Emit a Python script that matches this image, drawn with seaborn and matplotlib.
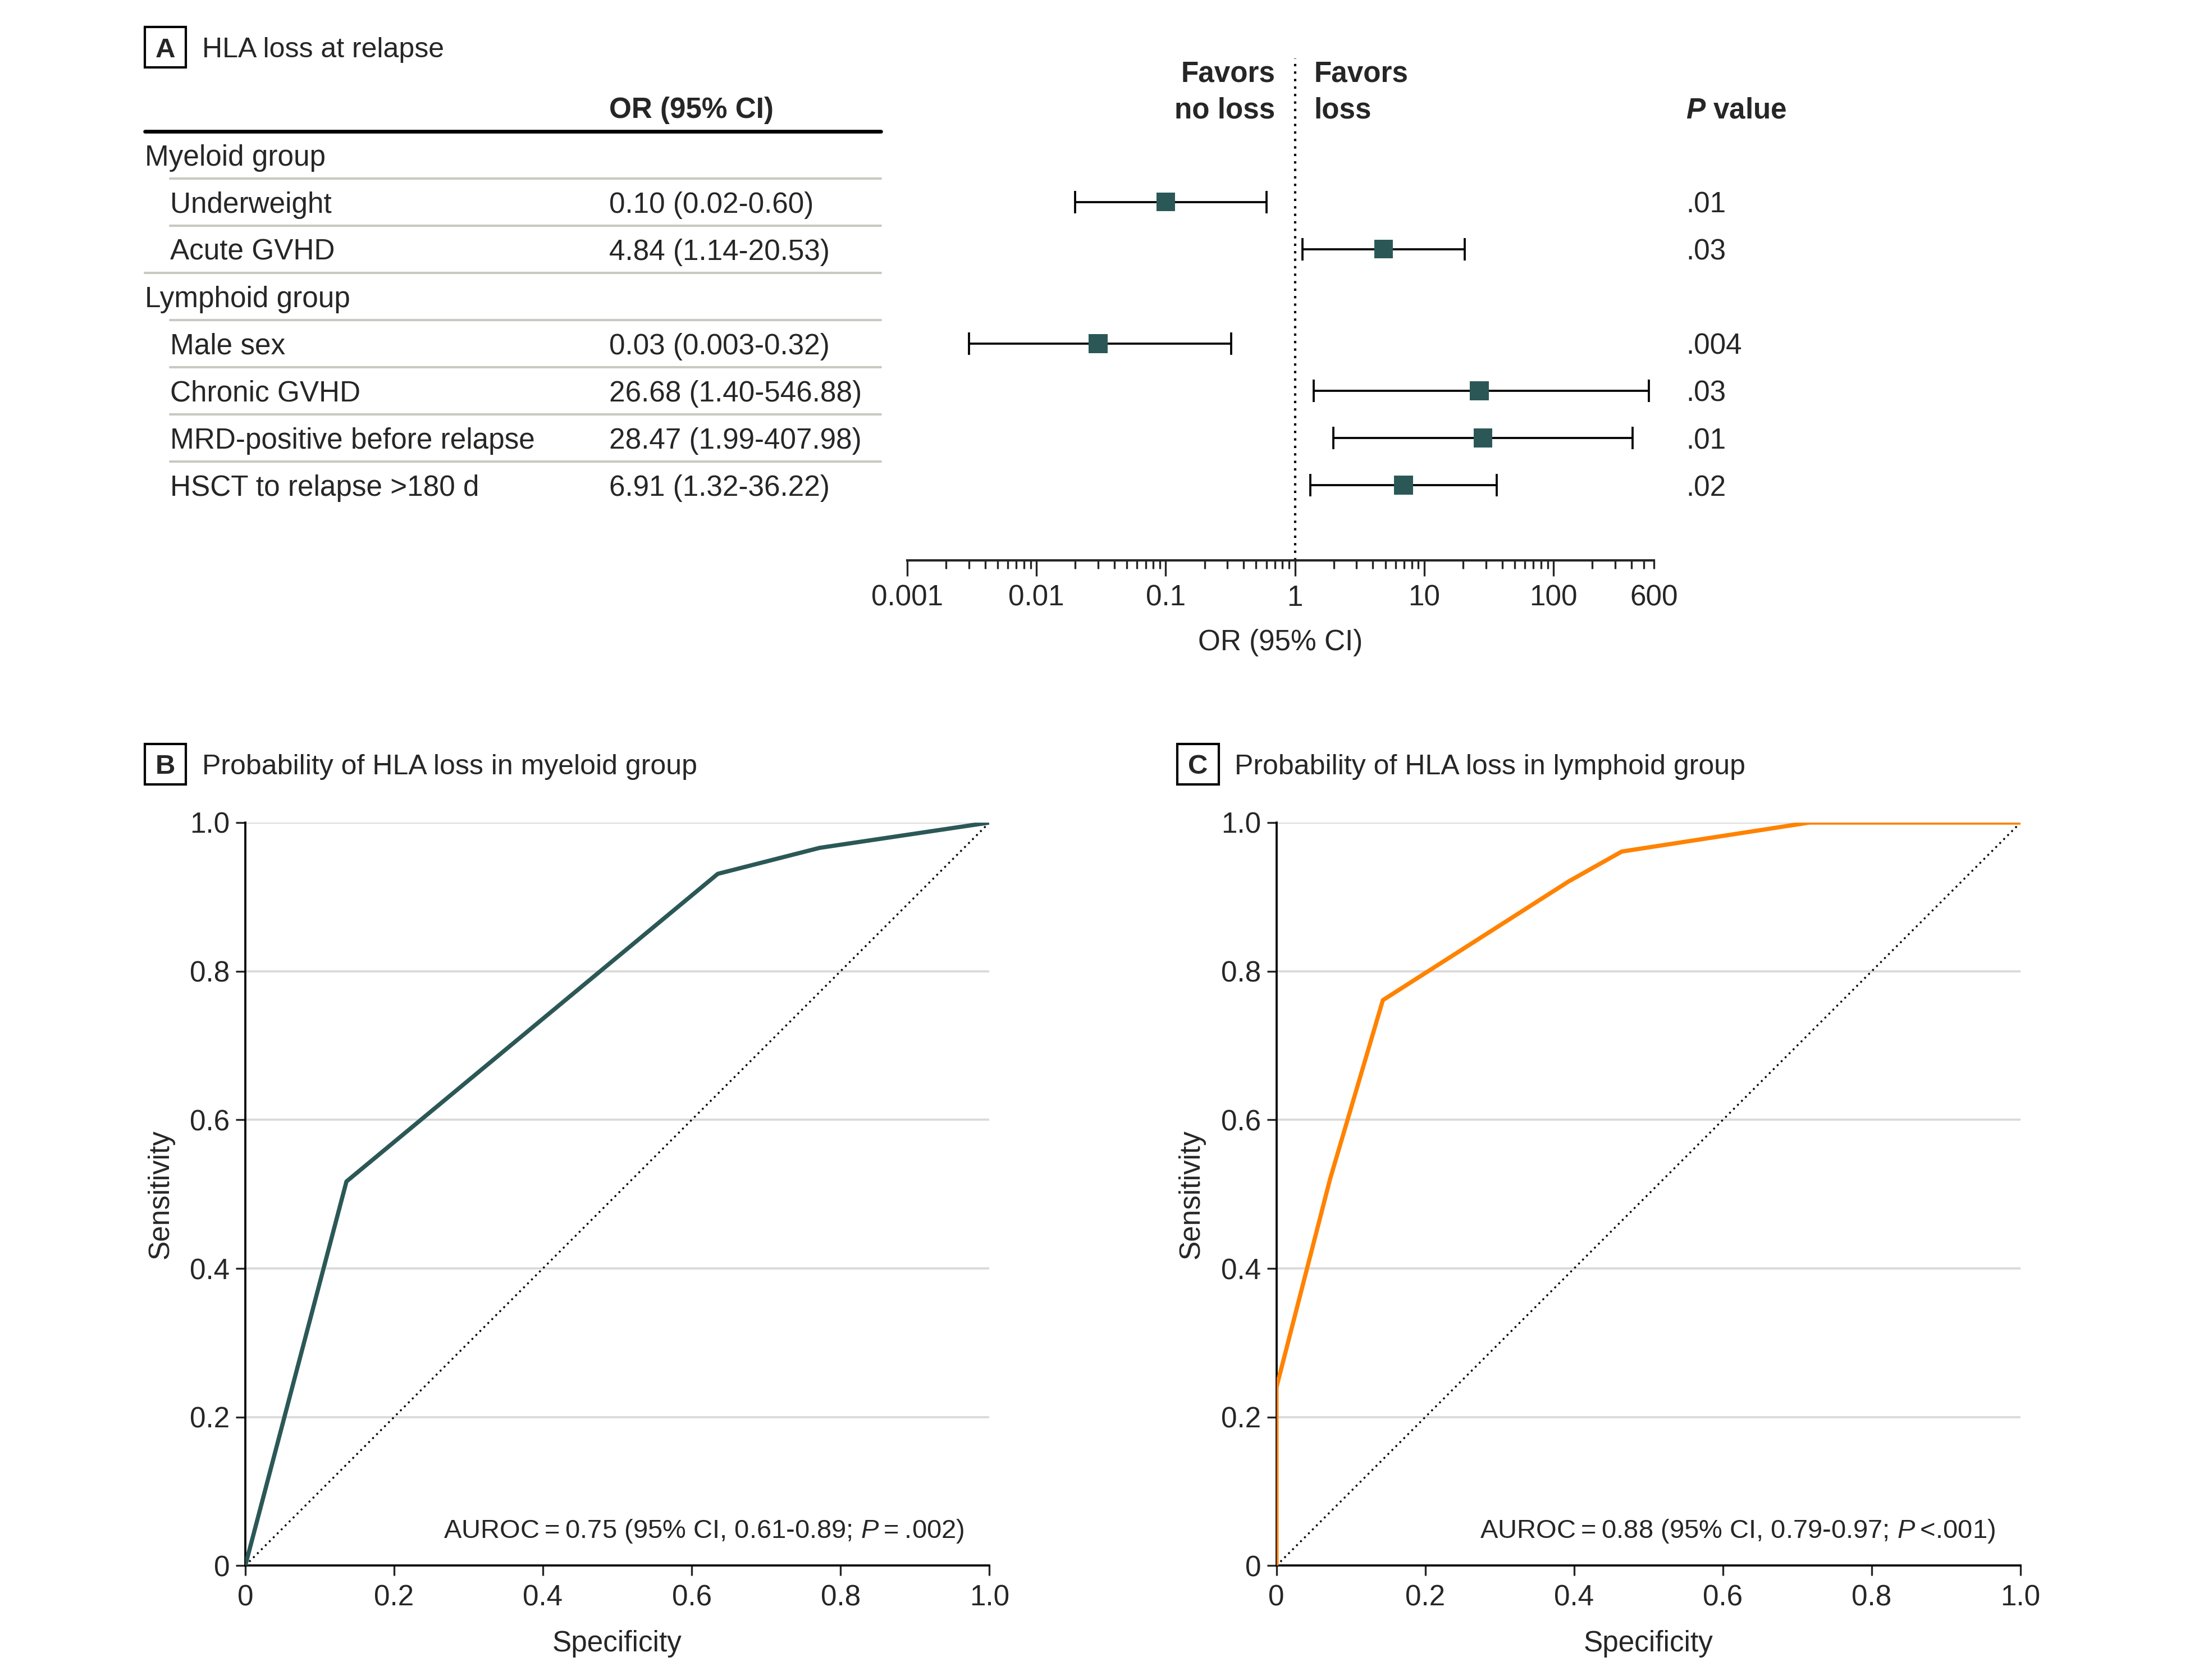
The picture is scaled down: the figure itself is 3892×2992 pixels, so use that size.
import numpy as np
import pandas as pd
import matplotlib
matplotlib.use("Agg")
import matplotlib.pyplot as plt
import matplotlib.transforms as mtransforms
from matplotlib import font_manager
from matplotlib.lines import Line2D
from matplotlib.patches import Rectangle
from matplotlib.ticker import FixedLocator, FuncFormatter
import seaborn as sns

# ---- panel A: odds ratios ----
row_labels = ["Myeloid group", "Underweight", "Acute GVHD", "Lymphoid group",
              "Male sex", "Chronic GVHD", "MRD-positive before relapse", "HSCT to relapse >180 d"]
is_group = [True, False, False, True, False, False, False, False]
odds_ratio = [np.nan, 0.10, 4.84, np.nan, 0.03, 26.68, 28.47, 6.91]
ci_low = [np.nan, 0.02, 1.14, np.nan, 0.003, 1.40, 1.99, 1.32]
ci_high = [np.nan, 0.60, 20.53, np.nan, 0.32, 546.88, 407.98, 36.22]
or_text = ["", "0.10 (0.02-0.60)", "4.84 (1.14-20.53)", "", "0.03 (0.003-0.32)",
           "26.68 (1.40-546.88)", "28.47 (1.99-407.98)", "6.91 (1.32-36.22)"]
p_text = ["", ".01", ".03", "", ".004", ".03", ".01", ".02"]
or_ticks = [0.001, 0.01, 0.1, 1, 10, 100]

# ---- panels B, C: ROC curves ----
spec_myeloid = [0, 0.136, 0.635, 0.772, 1.0]
sens_myeloid = [0, 0.517, 0.931, 0.966, 1.0]
spec_lymphoid = [0, 0, 0.072, 0.143, 0.393, 0.464, 0.716, 1.0]
sens_lymphoid = [0, 0.24, 0.52, 0.761, 0.921, 0.961, 1.0, 1.0]
roc_ticks = [0, 0.2, 0.4, 0.6, 0.8, 1.0]
auroc_myeloid = "AUROC\u2009=\u20090.75 (95% CI, 0.61-0.89; $P$\u2009=\u2009.002)"
auroc_lymphoid = "AUROC\u2009=\u20090.88 (95% CI, 0.79-0.97; $P$\u2009<.001)"

TEAL = "#2b5856"
ORANGE = "#ff8200"
GRID = "#d9d9d9"
RULE = "#c9c9c2"
FS = 12.3

sns.set_style("ticks")
available = {f.name for f in font_manager.fontManager.ttflist}
base_font = "Liberation Sans" if "Liberation Sans" in available else "DejaVu Sans"
plt.rcParams["font.family"] = [base_font, "DejaVu Sans"]
plt.rcParams["mathtext.fontset"] = "custom"
plt.rcParams["mathtext.rm"] = base_font
plt.rcParams["mathtext.it"] = base_font + ":italic"
plt.rcParams["mathtext.bf"] = base_font + ":bold"
plt.rcParams["mathtext.bfit"] = base_font + ":italic:bold"

W, H, DPI = 3892, 2992, 300
fig = plt.figure(figsize=(W / DPI, H / DPI), dpi=DPI)

# layout helpers in reference (1568 x 1205) pixel units
def fx(px):
    return px / 1568

def fy(py):
    return 1 - py / 1205


def panel_title(letter, x_box, y_mid, title):
    fig.add_artist(Rectangle((fx(x_box), fy(y_mid + 14.5)), fx(29.5), fy(0) - fy(29),
                             transform=fig.transFigure, fill=False, ec="black", lw=1.0))
    fig.text(fx(x_box + 14.75), fy(y_mid), letter, ha="center", va="center_baseline",
             fontsize=FS - 0.5, fontweight="bold")
    fig.text(fx(x_box + 41), fy(y_mid), title, ha="left", va="center_baseline", fontsize=FS - 0.3)


# ---------------- panel A ----------------
row_top, row_step = 111, (348 - 111) / 7
ax_a = fig.add_axes([fx(651), fy(402), fx(1187) - fx(651), fy(42) - fy(402)])
rows = np.arange(len(row_labels))
ax_a.set_ylim((402 - row_top) / row_step, (42 - row_top) / row_step)

forest = pd.DataFrame({"row": rows, "or": odds_ratio, "lo": ci_low, "hi": ci_high}).dropna()
ax_a.errorbar(forest["or"], forest["row"],
              xerr=[forest["or"] - forest["lo"], forest["hi"] - forest["or"]],
              fmt="none", ecolor="black", elinewidth=0.9, capsize=4.8, capthick=0.9, zorder=2)
sns.scatterplot(data=forest, x="or", y="row", marker="s", s=64, color=TEAL,
                edgecolor="none", ax=ax_a, zorder=3, legend=False)
ax_a.axvline(1, color="black", ls=(0, (1, 2.2)), lw=1.0, zorder=1)

ax_a.set_xscale("log")
ax_a.set_xlim(0.001, 600)
ax_a.xaxis.set_major_locator(FixedLocator(or_ticks))
ax_a.xaxis.set_major_formatter(FuncFormatter(lambda v, _: f"{v:g}"))
minor = [m * 10.0 ** e for e in range(-3, 3) for m in range(2, 10) if m * 10.0 ** e <= 600]
ax_a.xaxis.set_minor_locator(FixedLocator(minor))
ax_a.xaxis.set_minor_formatter(FuncFormatter(lambda v, _: "600" if np.isclose(v, 600) else ""))
ax_a.tick_params(axis="x", which="major", length=6.7, width=0.8, pad=3.5, labelsize=FS)
ax_a.tick_params(axis="x", which="minor", length=3.7, width=0.8, pad=6.5, labelsize=FS)
ax_a.set_yticks([])
ax_a.set_ylabel("")
for side in ["top", "right", "left"]:
    ax_a.spines[side].set_visible(False)
ax_a.spines["bottom"].set_linewidth(1.0)
ax_a.set_xlabel("OR (95% CI)", fontsize=FS)
ax_a.xaxis.set_label_coords(0.5, -(451 - 402) / 360)
ax_a.patch.set_alpha(0)

blend = mtransforms.blended_transform_factory(fig.transFigure, ax_a.transData)
for i, label in enumerate(row_labels):
    x_lab = 104 if is_group[i] else 122
    fig.text(fx(x_lab), i, label, transform=blend, ha="left", va="center_baseline", fontsize=FS)
    fig.text(fx(437), i, or_text[i], transform=blend, ha="left", va="center_baseline", fontsize=FS)
    fig.text(fx(1210), i, p_text[i], transform=blend, ha="left", va="center_baseline", fontsize=FS)
    # rule above each row
    if i == 0:
        fig.add_artist(Line2D([fx(104), fx(632)], [i - 0.5, i - 0.5], transform=blend,
                              color="black", lw=1.6))
    else:
        x0 = 104 if is_group[i] else 122
        fig.add_artist(Line2D([fx(x0), fx(632)], [i - 0.5, i - 0.5], transform=blend,
                              color=RULE, lw=1.0))

fig.text(fx(437), fy(77), "OR (95% CI)", ha="left", va="center_baseline", fontsize=FS, fontweight="bold")
fig.text(fx(915), fy(51), "Favors", ha="right", va="center_baseline", fontsize=FS, fontweight="bold")
fig.text(fx(915), fy(77), "no loss", ha="right", va="center_baseline", fontsize=FS, fontweight="bold")
fig.text(fx(943), fy(51), "Favors", ha="left", va="center_baseline", fontsize=FS, fontweight="bold")
fig.text(fx(943), fy(77), "loss", ha="left", va="center_baseline", fontsize=FS, fontweight="bold")
fig.text(fx(1210), fy(77), r"$\mathbfit{P}$ value", ha="left", va="center_baseline",
         fontsize=FS, fontweight="bold")
panel_title("A", 104, 34, "HLA loss at relapse")


# ---------------- panels B, C ----------------
def roc_panel(x_left, spec, sens, color, note):
    ax = fig.add_axes([fx(x_left), fy(1123), fx(534), fy(590) - fy(1123)])
    roc = pd.DataFrame({"Specificity": spec, "Sensitivity": sens})
    ax.axline((0, 0), slope=1, color="black", ls=(0, (1, 2)), lw=0.8, zorder=2)
    sns.lineplot(data=roc, x="Specificity", y="Sensitivity", estimator=None, sort=False,
                 color=color, lw=1.8, ax=ax, zorder=3)
    ax.set_xlim(0, 1)
    ax.set_ylim(0, 1)
    ax.set_xticks(roc_ticks)
    ax.set_yticks(roc_ticks)
    fmt = FuncFormatter(lambda v, _: "0" if v == 0 else f"{v:.1f}")
    ax.xaxis.set_major_formatter(fmt)
    ax.yaxis.set_major_formatter(fmt)
    ax.yaxis.grid(True, color=GRID, lw=0.9)
    ax.set_axisbelow(True)
    ax.tick_params(axis="x", length=4.2, width=0.8, pad=3.8, labelsize=FS)
    ax.tick_params(axis="y", length=4.2, width=0.8, pad=2.4, labelsize=FS)
    sns.despine(ax=ax)
    for side in ["left", "bottom"]:
        ax.spines[side].set_linewidth(0.9)
        ax.spines[side].set_color("black")
    ax.set_xlabel("Specificity", fontsize=FS)
    ax.set_ylabel("Sensitivity", fontsize=FS)
    ax.xaxis.set_label_coords(0.5, -(1169 - 1123) / 533)
    ax.yaxis.set_label_coords(-(176 - 125) / 534, 0.5)
    ax.text(0.966, (1123 - 1096) / 533, note, transform=ax.transAxes, ha="right",
            va="center_baseline", fontsize=FS - 1.0)
    return ax


roc_panel(176, spec_myeloid, sens_myeloid, TEAL, auroc_myeloid)
panel_title("B", 104, 548, "Probability of HLA loss in myeloid group")
roc_panel(916, spec_lymphoid, sens_lymphoid, ORANGE, auroc_lymphoid)
panel_title("C", 845, 548, "Probability of HLA loss in lymphoid group")

fig.savefig("out.png", dpi=DPI, facecolor="white")
